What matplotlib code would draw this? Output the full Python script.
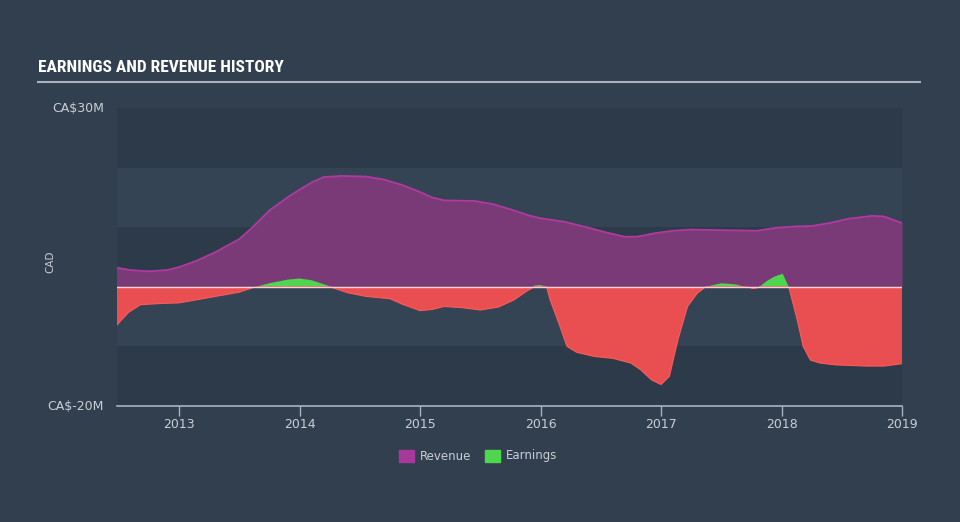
import matplotlib
matplotlib.use("Agg")
import matplotlib.pyplot as plt
from matplotlib import font_manager as fm
import numpy as np
from matplotlib.patches import Rectangle

# ---- data (CA$ millions) ----
rev_t = [2012.48, 2012.6, 2012.75, 2012.9, 2013.0, 2013.15, 2013.3, 2013.5, 2013.6, 2013.75,
         2013.9, 2014.0, 2014.1, 2014.2, 2014.35, 2014.55, 2014.7, 2014.85, 2015.0, 2015.1,
         2015.2, 2015.45, 2015.6, 2015.75, 2015.9, 2016.0, 2016.2, 2016.4, 2016.55, 2016.7,
         2016.8, 2016.95, 2017.1, 2017.25, 2017.5, 2017.8, 2017.95, 2018.1, 2018.25, 2018.4,
         2018.55, 2018.75, 2018.85, 2019.0]
rev_v = [3.2, 2.8, 2.6, 2.8, 3.3, 4.4, 5.8, 8.0, 9.8, 12.8,
         15.0, 16.3, 17.5, 18.4, 18.6, 18.5, 18.0, 17.1, 15.9, 15.0,
         14.5, 14.4, 13.9, 13.0, 12.0, 11.5, 10.9, 9.9, 9.1, 8.4,
         8.4, 9.0, 9.4, 9.6, 9.5, 9.4, 9.9, 10.1, 10.2, 10.7,
         11.4, 11.9, 11.8, 10.7]

earn_t = [2012.48, 2012.58, 2012.68, 2012.85, 2013.0, 2013.25, 2013.5, 2013.62, 2013.75, 2013.9,
          2014.0, 2014.1, 2014.25, 2014.4, 2014.55, 2014.75, 2014.85, 2015.0, 2015.1, 2015.2,
          2015.35, 2015.5, 2015.65, 2015.78, 2015.88, 2015.95, 2016.0, 2016.05, 2016.08, 2016.15,
          2016.22, 2016.3, 2016.45, 2016.6, 2016.75, 2016.83, 2016.92, 2017.0, 2017.07, 2017.14,
          2017.22, 2017.3, 2017.37, 2017.5, 2017.62, 2017.7, 2017.77, 2017.83, 2017.88, 2017.94,
          2018.01, 2018.06, 2018.13, 2018.18, 2018.24, 2018.32, 2018.45, 2018.7, 2018.85, 2019.0]
earn_v = [-6.5, -4.3, -3.0, -2.8, -2.7, -1.8, -0.9, -0.1, 0.6, 1.2,
          1.4, 1.1, 0.1, -1.0, -1.6, -2.0, -2.9, -4.0, -3.8, -3.3,
          -3.5, -3.9, -3.4, -2.2, -0.8, 0.2, 0.3, 0.0, -2.2, -6.0,
          -10.0, -11.0, -11.7, -12.0, -12.8, -13.9, -15.6, -16.4, -15.0, -8.9,
          -3.3, -1.1, 0.0, 0.6, 0.4, 0.0, -0.3, 0.2, 1.0, 1.7,
          2.2, 0.0, -5.5, -10.0, -12.3, -12.8, -13.1, -13.3, -13.3, -12.9]

years = [2013, 2014, 2015, 2016, 2017, 2018, 2019]
y_labels = {30: "CA$30M", -20: "CA$-20M"}

# ---- styling ----
BG = "#323f4f"
BAND_DARK = "#2d3a49"
BAND_LIGHT = "#344454"
TXT = "#c9ced5"

installed = {f.name for f in fm.fontManager.ttflist}
title_family = "DejaVu Sans"
title_size = 10.5
for cand in ["Roboto Condensed", "Liberation Sans Narrow", "Open Sans Condensed"]:
    if cand in installed:
        title_family = cand
        title_size = 12.5
        break

fig = plt.figure(figsize=(9.6, 5.22), dpi=100, facecolor=BG)
ax = fig.add_axes([117/960, 116/522, 785/960, 298/522])
ax.set_facecolor(BG)
ax.set_xlim(2012.485, 2019.0)
ax.set_ylim(-20, 30)

# background bands
for i, lo in enumerate(range(-20, 30, 10)):
    col = BAND_DARK if i % 2 == 0 else BAND_LIGHT
    ax.axhspan(lo, lo + 10, color=col, lw=0, zorder=0)

rt = np.array(rev_t); rv = np.array(rev_v)
et = np.array(earn_t); ev = np.array(earn_v)

ax.fill_between(rt, 0, rv, color="#7a3a77", lw=0, zorder=2)
ax.plot(rt, rv, color="#b03a9f", lw=1.3, zorder=3)

ax.fill_between(et, 0, ev, where=ev <= 0, interpolate=True, color="#e94f50", lw=0, zorder=4)
ax.fill_between(et, 0, ev, where=ev >= 0, interpolate=True, color="#4fd54e", lw=0, zorder=4)
ax.plot(et, np.minimum(ev, 0), color="#ff5a5a", lw=0.8, zorder=5)

ax.axhline(0, color="#f2d4da", lw=1.0, zorder=6)

for s in ["top", "right", "left"]:
    ax.spines[s].set_visible(False)
ax.spines["bottom"].set_color("#aab4c0")
ax.spines["bottom"].set_linewidth(1.2)
ax.spines["bottom"].set_zorder(7)

ax.set_xticks(years)
ax.set_xticklabels([str(y) for y in years])
ax.tick_params(axis="x", colors="#aab4c0", labelcolor=TXT, labelsize=9, length=7, width=1, pad=2)
ax.set_yticks([])

for v, lab in y_labels.items():
    ax.text(-0.017, v, lab, transform=ax.get_yaxis_transform(), ha="right", va="center",
            color=TXT, fontsize=9)
fig.text(50/960, 1 - 262/522, "CAD", rotation=90, ha="center", va="center", color=TXT, fontsize=7.5)

# title and rule
fig.text(38/960, 1 - 68/522, "EARNINGS AND REVENUE HISTORY", color="white", fontsize=title_size,
         fontweight="bold", family=[title_family, "DejaVu Sans"], ha="left", va="center")
fig.add_artist(plt.Line2D([38/960, 920/960], [1 - 81.5/522, 1 - 81.5/522], color="#aab2bb", lw=1.5,
                          transform=fig.transFigure))

# legend
def leg(x, col, label):
    fig.add_artist(Rectangle((x/960, 1 - 462/522), 15/960, 12/522, color=col, transform=fig.transFigure))
    fig.text((x + 21)/960, 1 - 456/522, label, color=TXT, fontsize=8.5, va="center", ha="left")
leg(399, "#a6399a", "Revenue")
leg(485, "#4fd54e", "Earnings")

fig.savefig("out.png", dpi=100, facecolor=BG)
